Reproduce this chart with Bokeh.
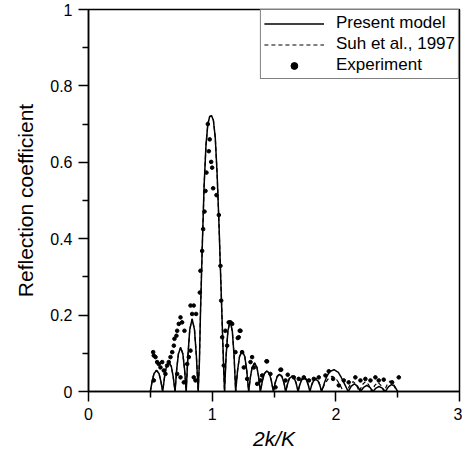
from bokeh.plotting import figure
from bokeh.embed import file_html
from bokeh.resources import INLINE
from bokeh.models import Range1d, FixedTicker

# ---- data ----
x_model = [0.50, 0.515, 0.53, 0.55, 0.57, 0.585, 0.60,
           0.615, 0.63, 0.65, 0.67, 0.685, 0.70,
           0.713, 0.727, 0.745, 0.763, 0.777, 0.79,
           0.804, 0.819, 0.838, 0.857, 0.872, 0.887,
           0.897, 0.905, 0.92, 0.935, 0.95, 0.965, 0.98, 0.995, 1.01, 1.025, 1.04, 1.055, 1.07, 1.082, 1.092, 1.10,
           1.113, 1.127, 1.145, 1.163, 1.177, 1.19,
           1.205, 1.221, 1.243, 1.264, 1.28, 1.295,
           1.309, 1.323, 1.343, 1.362, 1.376, 1.39,
           1.406, 1.421, 1.443, 1.464, 1.479, 1.495,
           1.51, 1.525, 1.545, 1.565, 1.58, 1.595,
           1.61, 1.625, 1.645, 1.665, 1.68, 1.695,
           1.709, 1.723, 1.743, 1.762, 1.776, 1.79,
           1.804, 1.818, 1.838, 1.857, 1.871, 1.885,
           1.905, 1.925, 1.95, 1.985, 2.02, 2.045, 2.07, 2.10,
           2.125, 2.15, 2.175, 2.20,
           2.225, 2.25, 2.275, 2.30,
           2.325, 2.35, 2.375, 2.40,
           2.425, 2.45, 2.475, 2.50]
r_model = [0.0, 0.027, 0.047, 0.055, 0.047, 0.027, 0.0,
           0.038, 0.065, 0.076, 0.065, 0.038, 0.0,
           0.058, 0.098, 0.115, 0.098, 0.058, 0.0,
           0.095, 0.162, 0.19, 0.162, 0.095, 0.0,
           0.08, 0.2, 0.38, 0.54, 0.645, 0.70, 0.72, 0.722, 0.71, 0.665, 0.57, 0.44, 0.29, 0.17, 0.07, 0.0,
           0.095, 0.158, 0.185, 0.158, 0.095, 0.0,
           0.054, 0.091, 0.107, 0.091, 0.054, 0.0,
           0.037, 0.063, 0.074, 0.063, 0.037, 0.0,
           0.027, 0.046, 0.054, 0.046, 0.027, 0.0,
           0.023, 0.038, 0.045, 0.038, 0.023, 0.0,
           0.02, 0.034, 0.04, 0.034, 0.02, 0.0,
           0.018, 0.03, 0.035, 0.03, 0.018, 0.0,
           0.016, 0.027, 0.032, 0.027, 0.016, 0.0,
           0.02, 0.038, 0.052, 0.057, 0.05, 0.036, 0.02, 0.0,
           0.014, 0.02, 0.014, 0.0,
           0.011, 0.016, 0.011, 0.0,
           0.009, 0.013, 0.009, 0.0,
           0.012, 0.018, 0.014, 0.0]

x_suh = [0.50, 0.515, 0.53, 0.55, 0.57, 0.585, 0.60,
         0.615, 0.63, 0.65, 0.67, 0.685, 0.70,
         0.713, 0.727, 0.745, 0.763, 0.777, 0.79,
         0.804, 0.819, 0.838, 0.857, 0.872, 0.887,
         0.897, 0.905, 0.92, 0.935, 0.95, 0.965, 0.98, 0.995, 1.01, 1.025, 1.04, 1.055, 1.07, 1.082, 1.092, 1.10,
         1.113, 1.127, 1.145, 1.163, 1.177, 1.19,
         1.205, 1.221, 1.243, 1.264, 1.28, 1.295,
         1.309, 1.323, 1.343, 1.362, 1.376, 1.39,
         1.406, 1.421, 1.443, 1.464, 1.479, 1.495,
         1.51, 1.525, 1.545, 1.565, 1.58, 1.595,
         1.61, 1.625, 1.645, 1.665, 1.68, 1.695,
         1.709, 1.723, 1.743, 1.762, 1.776, 1.79,
         1.804, 1.818, 1.838, 1.857, 1.871, 1.885,
         1.91, 1.94, 1.97, 2.0, 2.03, 2.06, 2.09,
         2.115, 2.14, 2.165, 2.19,
         2.215, 2.24, 2.265, 2.29,
         2.315, 2.34, 2.365, 2.39,
         2.415, 2.44, 2.465, 2.49]
r_suh = [0.0, 0.028, 0.048, 0.056, 0.048, 0.028, 0.0,
         0.039, 0.066, 0.077, 0.066, 0.039, 0.0,
         0.058, 0.099, 0.116, 0.099, 0.058, 0.0,
         0.095, 0.163, 0.19, 0.163, 0.095, 0.0,
         0.08, 0.2, 0.38, 0.54, 0.645, 0.70, 0.72, 0.722, 0.71, 0.665, 0.57, 0.44, 0.29, 0.17, 0.07, 0.0,
         0.095, 0.158, 0.185, 0.158, 0.095, 0.0,
         0.054, 0.091, 0.107, 0.091, 0.054, 0.0,
         0.038, 0.064, 0.075, 0.064, 0.038, 0.0,
         0.028, 0.047, 0.055, 0.047, 0.028, 0.0,
         0.024, 0.04, 0.047, 0.04, 0.024, 0.0,
         0.022, 0.036, 0.042, 0.036, 0.022, 0.0,
         0.02, 0.033, 0.038, 0.033, 0.02, 0.0,
         0.018, 0.03, 0.035, 0.03, 0.018, 0.0,
         0.02, 0.034, 0.04, 0.034, 0.02, 0.0, 0.0,
         0.018, 0.026, 0.018, 0.0,
         0.018, 0.026, 0.018, 0.0,
         0.016, 0.024, 0.016, 0.0,
         0.018, 0.028, 0.02, 0.0]

x_exp = [0.523, 0.528, 0.542, 0.555, 0.568, 0.582, 0.596, 0.609, 0.622, 0.636,
         0.649, 0.663, 0.677, 0.690, 0.695, 0.711, 0.717, 0.730, 0.744, 0.757,
         0.776, 0.744, 0.771, 0.717, 0.798, 0.811, 0.825, 0.838, 0.851, 0.825,
         0.870, 0.851, 0.865, 0.528,
         0.900, 0.905, 0.919, 0.927, 0.938, 0.946, 0.954, 0.965, 0.973, 0.980,
         0.992, 1.000, 1.008, 1.035, 1.054, 1.067,
         1.073, 1.081, 1.094, 1.107, 1.121, 1.134, 1.148, 1.162, 1.188, 1.207,
         1.215, 1.223, 1.229, 1.242, 1.256, 1.283, 1.310, 1.323, 1.337, 1.364,
         1.391, 1.404, 1.439, 1.444, 1.471, 1.512, 1.552, 1.558, 1.593, 1.611,
         1.660, 1.700, 1.741, 1.782, 1.822, 1.862, 1.916, 1.943, 1.978, 2.024,
         2.064, 2.104, 2.158, 2.199, 2.239, 2.280, 2.320, 2.347, 2.387, 2.455,
         2.509]
r_exp = [0.103, 0.094, 0.090, 0.077, 0.072, 0.063, 0.077, 0.055, 0.046, 0.068,
         0.077, 0.090, 0.103, 0.120, 0.138, 0.146, 0.159, 0.177, 0.194, 0.181,
         0.159, 0.037, 0.024, 0.046, 0.072, 0.090, 0.107, 0.203, 0.225, 0.225,
         0.203, 0.037, 0.029, 0.029,
         0.259, 0.316, 0.368, 0.425, 0.471, 0.525, 0.573, 0.700, 0.629, 0.660,
         0.601, 0.586, 0.532, 0.514, 0.462, 0.329,
         0.238, 0.142, 0.068, 0.159, 0.120, 0.181, 0.181, 0.177, 0.103, 0.140,
         0.142, 0.159, 0.159, 0.103, 0.063, 0.033, 0.077, 0.090, 0.063, 0.020,
         0.029, 0.042, 0.079, 0.079, 0.046, 0.011, 0.057, 0.057, 0.029, 0.044,
         0.037, 0.033, 0.037, 0.029, 0.033, 0.037, 0.042, 0.053, 0.033, 0.016,
         0.029, 0.024, 0.037, 0.029, 0.033, 0.029, 0.037, 0.029, 0.031, 0.024,
         0.037]

x_ticks = [0, 1, 2, 3]
y_ticks = [0, 0.2, 0.4, 0.6, 0.8, 1]

FONT = "Liberation Sans"

p = figure(width=462, height=452, output_backend="svg", toolbar_location=None,
           x_range=Range1d(0, 3), y_range=Range1d(0, 1),
           min_border_left=88, min_border_right=3, min_border_top=9, min_border_bottom=61)

p.line(x_model, r_model, line_color="black", line_width=1.5, legend_label="Present model")
p.line(x_suh, r_suh, line_color="black", line_width=1.2, line_dash="4 3", legend_label="Suh et al., 1997")
p.scatter(x_exp, r_exp, size=3.6, color="black", legend_label="Experiment")

p.xgrid.visible = False
p.ygrid.visible = False
p.outline_line_color = "black"
p.outline_line_width = 1.5
p.outline_line_alpha = 1

p.xaxis.ticker = FixedTicker(ticks=x_ticks, minor_ticks=[0.5, 1.5, 2.5])
p.yaxis.ticker = FixedTicker(ticks=y_ticks, minor_ticks=[0.1, 0.3, 0.5, 0.7, 0.9])
p.yaxis.formatter.use_scientific = False

for ax in (p.xaxis[0], p.yaxis[0]):
    ax.axis_line_color = "black"
    ax.axis_line_width = 1.5
    ax.major_tick_line_color = "black"
    ax.major_tick_line_width = 1.5
    ax.minor_tick_line_color = "black"
    ax.minor_tick_line_width = 1.5
    ax.major_tick_in = 0
    ax.major_tick_out = 10
    ax.minor_tick_in = 0
    ax.minor_tick_out = 6
    ax.major_label_text_font = FONT
    ax.major_label_text_font_size = "16px"
    ax.major_label_text_color = "black"
    ax.axis_label_text_font = FONT
    ax.axis_label_text_font_size = "21px"
    ax.axis_label_text_color = "black"
    ax.axis_label_text_font_style = "normal"

p.xaxis.major_label_standoff = 6
p.yaxis.major_label_standoff = 6
p.xaxis.axis_label = "2k/K"
p.xaxis.axis_label_text_font_style = "italic"
p.xaxis.axis_label_standoff = 4
p.yaxis.axis_label = "Reflection coefficient"
p.yaxis.axis_label_standoff = 10

lg = p.legend[0]
lg.location = "top_right"
lg.margin = 0
lg.padding = 3
lg.spacing = 1
lg.glyph_width = 60
lg.glyph_height = 17
lg.label_height = 17
lg.label_standoff = 12
lg.label_text_font = FONT
lg.label_text_font_size = "17px"
lg.label_text_color = "black"
lg.border_line_color = "black"
lg.border_line_width = 1.5
lg.background_fill_alpha = 1

open("out.html", "w").write(file_html(p, INLINE))
